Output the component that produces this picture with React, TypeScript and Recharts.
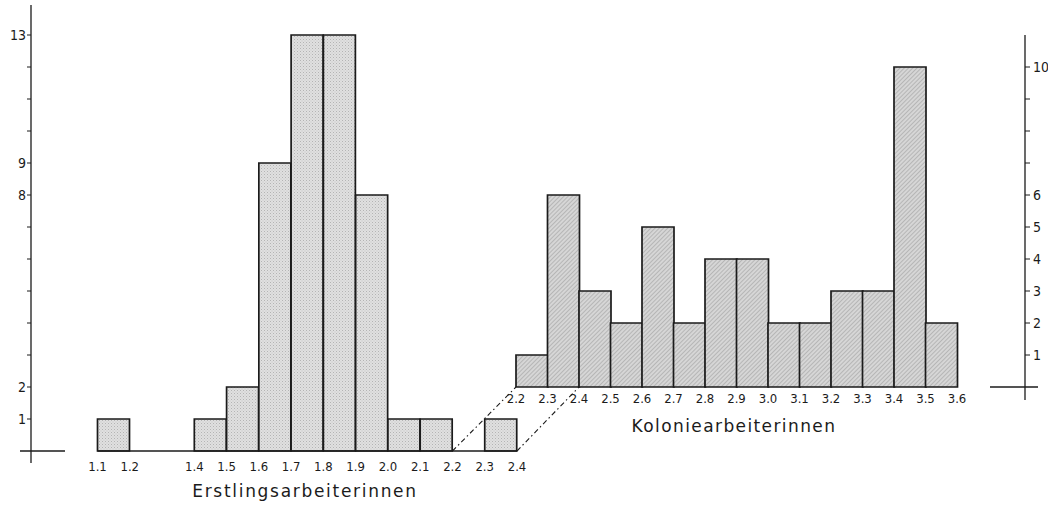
import React from 'react';
import { BarChart, Bar, XAxis, YAxis, ReferenceLine } from 'recharts';

const W = 1048;
const H = 506;

// Erstlingsarbeiterinnen: bins start at these values, width 0.1
const leftBins = ['1.1', '1.2', '1.3', '1.4', '1.5', '1.6', '1.7', '1.8', '1.9', '2.0', '2.1', '2.2', '2.3'];
const leftCounts = [1, 0, 0, 1, 2, 9, 13, 13, 8, 1, 1, 0, 1];
const leftEdgeTicks = [1.1, 1.2, 1.4, 1.5, 1.6, 1.7, 1.8, 1.9, 2.0, 2.1, 2.2, 2.3, 2.4];
const leftYTicks = [0, 1, 2, 3, 4, 5, 6, 7, 8, 9, 10, 11, 12, 13];
const leftYLabels = [1, 2, 8, 9, 13];

// Koloniearbeiterinnen
const rightBins = ['2.2', '2.3', '2.4', '2.5', '2.6', '2.7', '2.8', '2.9', '3.0', '3.1', '3.2', '3.3', '3.4', '3.5'];
const rightCounts = [1, 6, 3, 2, 5, 2, 4, 4, 2, 2, 3, 3, 10, 2];
const rightEdgeTicks = [2.2, 2.3, 2.4, 2.5, 2.6, 2.7, 2.8, 2.9, 3.0, 3.1, 3.2, 3.3, 3.4, 3.5, 3.6];
const rightYTicks = [0, 1, 2, 3, 4, 5, 6, 7, 8, 9, 10];
const rightYLabels = [1, 2, 3, 4, 5, 6, 10];

// dash-dot connectors: same value on both scales
const connectorValues = [2.2, 2.4];

const leftData = leftBins.map((bin, i) => ({ bin, start: Number(bin), count: leftCounts[i] }));
const rightData = rightBins.map((bin, i) => ({ bin, start: Number(bin), count: rightCounts[i] }));

// layout (pixels)
const L = { axisX: 31, x0: 97.5, x1: 517, top: 5, yMaxPx: 35, base: 451, bottom: 463, dom: [1.1, 2.4], yMax: 13 };
const R = { axisX: 1025, x0: 516, x1: 957, top: 35, yMaxPx: 67, base: 387, bottom: 400, dom: [2.2, 3.6], yMax: 10 };

const INK = '#1b1b1b';
const TICK_FONT = '"DejaVu Sans Condensed", "Liberation Sans Narrow", "DejaVu Sans", sans-serif';
const TITLE_FONT = '"DejaVu Sans", "Noto Sans", sans-serif';

// map a value of the right histogram into the left chart's data units
const rightPx = (v: number) => R.x0 + ((v - R.dom[0]) / (R.dom[1] - R.dom[0])) * (R.x1 - R.x0);
const pxToLeftX = (px: number) => L.dom[0] + ((px - L.x0) / (L.x1 - L.x0)) * (L.dom[1] - L.dom[0]);
const pxToLeftY = (py: number) => ((L.base - py) / (L.base - L.yMaxPx)) * L.yMax;

function EdgeTick(props: any) {
  const { x, y, payload, dy } = props;
  return (
    <text x={x} y={y} dy={dy} textAnchor="middle" fontSize={13} fontFamily={TICK_FONT} fill={INK}>
      {Number(payload.value).toFixed(1)}
    </text>
  );
}

function LeftYTick(props: any) {
  const { x, y, payload } = props;
  const v = payload.value;
  if (v === 0) return <line x1={x - 11} x2={x + 34} y1={y} y2={y} stroke={INK} strokeWidth={1.3} />;
  return (
    <g>
      <line x1={x - 4} x2={x} y1={y} y2={y} stroke={INK} strokeWidth={1} />
      {leftYLabels.includes(v) && (
        <text x={x - 5} y={y} dy={5} textAnchor="end" fontSize={14} fontFamily={TICK_FONT} fill={INK}>
          {v}
        </text>
      )}
    </g>
  );
}

function RightYTick(props: any) {
  const { x, y, payload } = props;
  const v = payload.value;
  if (v === 0) return <line x1={x - 35} x2={x + 13} y1={y} y2={y} stroke={INK} strokeWidth={1.3} />;
  return (
    <g>
      <line x1={x} x2={x + 5} y1={y} y2={y} stroke={INK} strokeWidth={1} />
      {rightYLabels.includes(v) && (
        <text x={x + 8} y={y} dy={5} textAnchor="start" fontSize={14} fontFamily={TICK_FONT} fill={INK}>
          {v}
        </text>
      )}
    </g>
  );
}

const layer: React.CSSProperties = { position: 'absolute', left: 0, top: 0 };

export default function App() {
  return (
    <div style={{ position: 'absolute', left: 0, top: 0, width: W, height: H, background: '#fff' }}>
      <svg width={0} height={0} style={{ position: 'absolute' }}>
        <defs>
          <pattern id="stip" width="3" height="3" patternUnits="userSpaceOnUse">
            <rect width="3" height="3" fill="#e0e0e0" />
            <rect x="0" y="0" width="1" height="1" fill="#b4b4b4" />
            <rect x="1.5" y="1.5" width="1" height="1" fill="#c4c4c4" />
          </pattern>
          <pattern id="hatch" width="3" height="3" patternUnits="userSpaceOnUse" patternTransform="rotate(45)">
            <rect width="3" height="3" fill="#d6d6d6" />
            <line x1="0" y1="0" x2="0" y2="3" stroke="#979797" strokeWidth="1" />
          </pattern>
        </defs>
      </svg>

      <div style={layer}>
        <BarChart
          width={W}
          height={H}
          data={leftData}
          margin={{ top: L.top, right: W - L.x1, bottom: 0, left: 0 }}
          barCategoryGap={0}
          barGap={0}
        >
          <XAxis xAxisId="bins" dataKey="bin" hide height={0} padding={{ left: L.x0 - L.axisX, right: 0 }} />
          <XAxis
            xAxisId="edges"
            dataKey="start"
            type="number"
            domain={L.dom}
            ticks={leftEdgeTicks}
            interval={0}
            allowDataOverflow
            padding={{ left: L.x0 - L.axisX, right: 0 }}
            height={H - L.bottom}
            axisLine={false}
            tickLine={false}
            tickSize={0}
            tickMargin={0}
            tick={(p: any) => <EdgeTick {...p} dy={8} />}
          />
          <YAxis
            width={L.axisX}
            domain={[0, L.yMax]}
            ticks={leftYTicks}
            interval={0}
            padding={{ top: L.yMaxPx - L.top, bottom: L.bottom - L.base }}
            tickLine={false}
            tickSize={0}
            tickMargin={0}
            axisLine={{ stroke: INK, strokeWidth: 1.3 }}
            tick={(p: any) => <LeftYTick {...p} />}
          />
          <Bar xAxisId="bins" dataKey="count" fill="url(#stip)" stroke={INK} strokeWidth={1.7} isAnimationActive={false} />
          <ReferenceLine
            xAxisId="edges"
            segment={[{ x: L.dom[0], y: 0 }, { x: L.dom[1], y: 0 }]}
            stroke={INK}
            strokeWidth={1.7}
          />
          {connectorValues.map((v) => (
            <ReferenceLine
              key={v}
              xAxisId="edges"
              ifOverflow="visible"
              segment={[
                { x: v, y: 0 },
                { x: pxToLeftX(rightPx(v)), y: pxToLeftY(R.base) },
              ]}
              stroke={INK}
              strokeWidth={1.1}
              strokeDasharray="5 3 1.5 3"
            />
          ))}
        </BarChart>
      </div>

      <div style={layer}>
        <BarChart
          width={W}
          height={H}
          data={rightData}
          margin={{ top: R.top, right: 0, bottom: 0, left: R.x0 }}
          barCategoryGap={0}
          barGap={0}
        >
          <XAxis xAxisId="bins" dataKey="bin" hide height={0} padding={{ left: 0, right: R.axisX - R.x1 }} />
          <XAxis
            xAxisId="edges"
            dataKey="start"
            type="number"
            domain={R.dom}
            ticks={rightEdgeTicks}
            interval={0}
            allowDataOverflow
            padding={{ left: 0, right: R.axisX - R.x1 }}
            height={H - R.bottom}
            axisLine={false}
            tickLine={false}
            tickSize={0}
            tickMargin={0}
            tick={(p: any) => <EdgeTick {...p} dy={3} />}
          />
          <YAxis
            orientation="right"
            width={W - R.axisX}
            domain={[0, R.yMax]}
            ticks={rightYTicks}
            interval={0}
            padding={{ top: R.yMaxPx - R.top, bottom: R.bottom - R.base }}
            tickLine={false}
            tickSize={0}
            tickMargin={0}
            axisLine={{ stroke: INK, strokeWidth: 1.3 }}
            tick={(p: any) => <RightYTick {...p} />}
          />
          <Bar xAxisId="bins" dataKey="count" fill="url(#hatch)" stroke={INK} strokeWidth={1.7} isAnimationActive={false} />
        </BarChart>
      </div>

      <svg width={W} height={H} style={{ ...layer, pointerEvents: 'none' }}>
        <text x={305} y={497} textAnchor="middle" fontSize={17} letterSpacing={1.7} fontFamily={TITLE_FONT} fill={INK}>
          Erstlingsarbeiterinnen
        </text>
        <text x={734} y={432} textAnchor="middle" fontSize={17} letterSpacing={1.4} fontFamily={TITLE_FONT} fill={INK}>
          Koloniearbeiterinnen
        </text>
      </svg>
    </div>
  );
}
